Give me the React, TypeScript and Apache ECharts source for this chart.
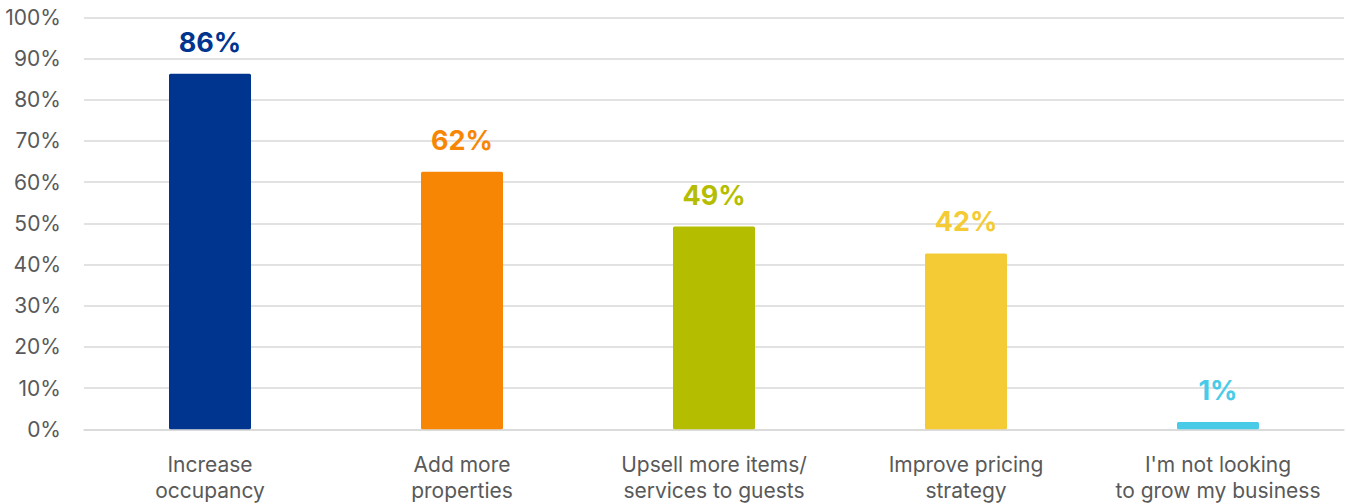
import React, { useEffect, useRef } from "react";
import * as echarts from "echarts";

const categories = [
  "Increase\noccupancy",
  "Add more\nproperties",
  "Upsell more items/\nservices to guests",
  "Improve pricing\nstrategy",
  "I'm not looking\nto grow my business",
];
// bar heights as drawn in the picture
const values = [86.3, 62.5, 49.2, 42.7, 1.8];
// data labels as printed
const valueLabels = ["86%", "62%", "49%", "42%", "1%"];
const barColors = ["#00358F", "#F88605", "#B4BD00", "#F4CB35", "#49CBE8"];
const yTicks = [0, 10, 20, 30, 40, 50, 60, 70, 80, 90, 100];

const FONT = "Inter, 'Noto Sans', sans-serif";

export default function App() {
  const ref = useRef<HTMLDivElement>(null);
  useEffect(() => {
    document.body.style.margin = "0";
    const chart = echarts.init(ref.current!, null, { renderer: "svg" });
    chart.setOption({
      animation: false,
      grid: { left: 84, right: 2, top: 17.3, bottom: 74.7, containLabel: false },
      xAxis: {
        type: "category",
        data: categories,
        axisTick: { show: false },
        axisLine: { show: true, lineStyle: { color: "#D9D9D9", width: 1.5 } },
        axisLabel: {
          color: "#595959",
          fontSize: 21,
          lineHeight: 26,
          margin: 22,
          fontFamily: FONT,
          interval: 0,
        },
      },
      yAxis: {
        type: "value",
        min: yTicks[0],
        max: yTicks[yTicks.length - 1],
        interval: 10,
        axisLine: { show: false },
        axisTick: { show: false },
        splitLine: { lineStyle: { color: "#D9D9D9", width: 1.5 } },
        axisLabel: {
          color: "#595959",
          fontSize: 21,
          margin: 23,
          fontFamily: FONT,
          formatter: (v: number) => `${v}%`,
        },
      },
      series: [
        {
          type: "bar",
          barWidth: 82,
          data: values.map((v, i) => ({
            value: v,
            itemStyle: {
              color: barColors[i],
              borderRadius: 1.5,
            },
            label: { color: barColors[i] },
          })),
          label: {
            show: true,
            position: "top",
            distance: 18,
            fontSize: 27,
            fontWeight: "bold",
            fontFamily: FONT,
            formatter: (p: any) => valueLabels[p.dataIndex],
          },
        },
      ],
    });
    return () => chart.dispose();
  }, []);
  return <div ref={ref} style={{ width: 1346, height: 504 }} />;
}
